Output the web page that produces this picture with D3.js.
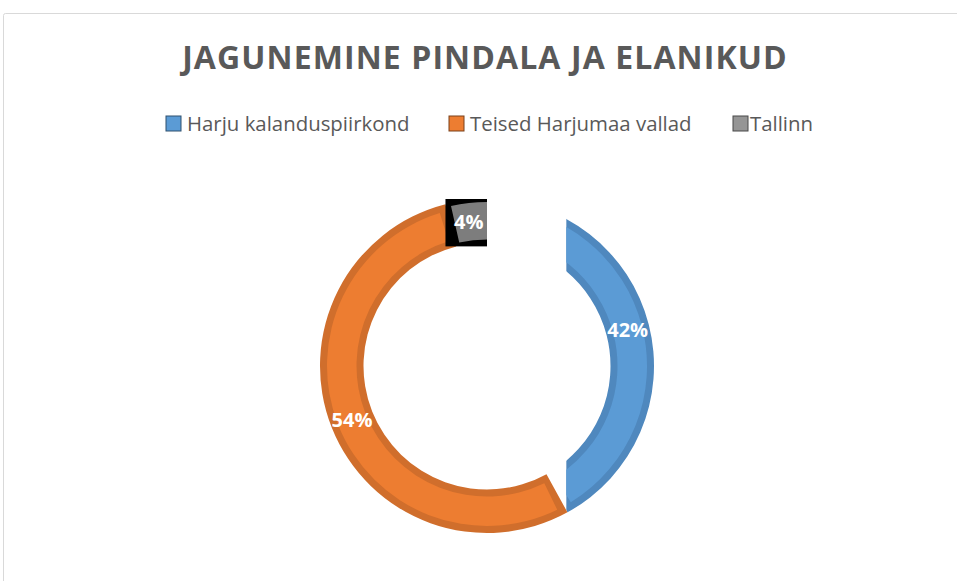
<!DOCTYPE html>
<meta charset="utf-8">
<style>
body{margin:0; background:#fff;}
svg text{font-family:"Open Sans", sans-serif;}
</style>
<svg id="chart" width="957" height="581"></svg>
<script src="https://d3js.org/d3.v7.min.js"></script>
<script>
// donut: share of area per region
const categories = ['Harju kalanduspiirkond', 'Teised Harjumaa vallad', 'Tallinn']
const values = [42, 54, 4]
const fills = ['#5B9BD5', '#ED7D31', '#959595']
const edges = ['#4F88BE', '#D06E2C', '#7d7d7d']
const title = 'JAGUNEMINE PINDALA JA ELANIKUD'

const svg = d3.select('#chart')
const cx = 487, cy = 366
const rOut = 167, rIn = 123.5

// chart frame (runs off the right and bottom edge)
svg.append('rect')
  .attr('x', 3.5).attr('y', 13.5).attr('width', 1000).attr('height', 1000)
  .attr('rx', 2).attr('fill', 'none').attr('stroke', '#d9d9d9')

svg.append('text')
  .attr('x', 485).attr('y', 69)
  .attr('text-anchor', 'middle')
  .style('font-size', '32px').style('font-weight', 700)
  .style('letter-spacing', '1.1px')
  .attr('fill', '#595959')
  .text(title)

// legend
const legendX = [166, 449, 733]
const legend = svg.selectAll('g.legend').data(categories).join('g')
  .attr('class', 'legend')
  .attr('transform', (d, i) => `translate(${legendX[i]},116)`)
legend.append('rect')
  .attr('width', 15).attr('height', 15)
  .attr('fill', (d, i) => fills[i])
  .attr('stroke', (d, i) => d3.color(edges[i]).darker(1.5)).attr('stroke-width', 1)
legend.append('text')
  .attr('x', (d, i) => i === 2 ? 17 : 21).attr('y', 14.5)
  .style('font-size', '20.4px')
  .attr('fill', '#595959')
  .text(d => d)

const pie = d3.pie().sort(null).value(d => d)
const arcs = pie(values)
const arc = d3.arc().innerRadius(rIn).outerRadius(rOut)
const inset = d3.arc().innerRadius(rIn + 7).outerRadius(rOut - 7)
  .startAngle(d => d.startAngle + 7 / ((rIn + rOut) / 2))
  .endAngle(d => d.endAngle - 7 / ((rIn + rOut) / 2))

const g = svg.append('g').attr('transform', `translate(${cx},${cy})`)

// the blue slice is cut off on its left side in the original render
const defs = svg.append('defs')
defs.append('clipPath').attr('id', 'cut')
  .append('rect').attr('x', rOut * 0.475).attr('y', -rOut - 2)
  .attr('width', rOut).attr('height', 2 * rOut + 4)

const slices = g.selectAll('g.slice').data(arcs).join('g')
  .attr('class', 'slice')
  .attr('clip-path', (d, i) => i === 0 ? 'url(#cut)' : null)

// Tallinn slice sits on a black box in the original
slices.filter((d, i) => i === 2).each(function(d) {
  const tmp = d3.select(this).append('path').attr('d', arc(d))
  const b = tmp.node().getBBox()
  tmp.remove()
  d3.select(this).append('rect')
    .attr('x', b.x).attr('y', b.y).attr('width', b.width).attr('height', b.height)
    .attr('fill', '#000')
})

slices.append('path')
  .attr('d', (d, i) => i === 2 ? d3.arc().innerRadius(rIn + 3).outerRadius(rOut - 3)
    .startAngle(d.startAngle + 0.03).endAngle(d.endAngle)(d) : arc(d))
  .attr('fill', (d, i) => edges[i])
slices.filter((d, i) => i < 2).append('path')
  .attr('d', inset)
  .attr('fill', (d, i) => fills[i])

g.selectAll('text.lbl').data(arcs).join('text')
  .attr('class', 'lbl')
  .attr('transform', d => `translate(${arc.centroid(d)})`)
  .attr('text-anchor', 'middle').attr('dy', '0.36em')
  .style('font-size', '20px').style('font-weight', 700)
  .attr('fill', '#fff')
  .text(d => d.data + '%')
</script>
